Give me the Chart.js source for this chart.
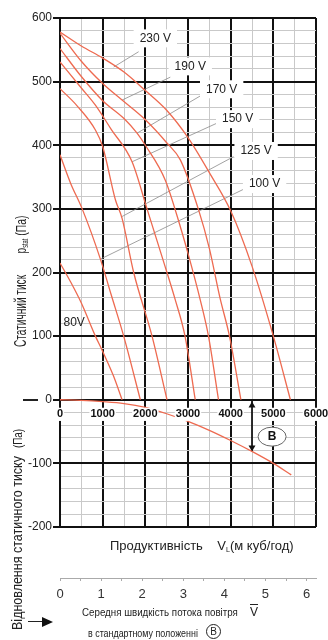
<!DOCTYPE html>
<html>
<head>
<meta charset="utf-8">
<script src="https://cdn.jsdelivr.net/npm/chart.js@4.4.1/dist/chart.umd.min.js"></script>
<style>
  body { margin: 0; background: #fff; font-family: "Liberation Sans", Arial, sans-serif; }
  #wrap { position: relative; width: 328px; height: 640px; overflow: hidden; }
  canvas { position: absolute; left: 0; top: 0; }
  .t { position: absolute; white-space: nowrap; color: #222; line-height: 1; }
  .rot { transform-origin: center; }
  sub { font-size: 55%; vertical-align: -2px; }
</style>
</head>
<body>
<div id="wrap">
  <canvas id="chart" width="328" height="640"></canvas>

  <div class="t rot" id="yTitle1" style="font-size:16px">Статичний тиск</div>
  <div class="t rot" id="yTitle2" style="font-size:15px">p<sub>stat</sub> (Па)</div>
  <div class="t rot" id="yTitle3" style="font-size:14px">Відновлення статичного тиску</div>
  <div class="t rot" id="yTitle4" style="font-size:13px">(Па)</div>

  <div class="t" style="left:110px;top:539px;font-size:13px">Продуктивність&nbsp;&nbsp;&nbsp; V<sub>L</sub>(м куб/год)</div>

  <div class="t" id="speedTitle" style="left:82px;top:607px;font-size:11px;transform-origin:left center">Середня швидкість потока повітря</div>
  <div class="t" style="left:250px;top:606px;font-size:12px;text-decoration:overline">V</div>
  <div class="t" id="posTitle" style="left:88px;top:628px;font-size:11px;transform-origin:left center">в стандартному положенні</div>
  <div class="t" style="left:206px;top:624px;width:13px;height:13px;border:1.5px solid #222;border-radius:50%;font-size:10px;text-align:center;line-height:13px">B</div>

  <div style="position:absolute;left:23px;top:399px;width:15px;height:1.5px;background:#222"></div>
  <div style="position:absolute;left:28px;top:621px;width:14px;height:1.2px;background:#222"></div>
  <div style="position:absolute;left:42px;top:617px;width:0;height:0;border-top:5px solid transparent;border-bottom:5px solid transparent;border-left:11px solid #111"></div>
</div>

<script>
// curves: air flow (m3/h) vs static pressure (Pa) for each voltage
const flow230 = [0, 500, 1000, 1500, 2000, 2500, 3000, 3500, 4000, 4500, 5000, 5400];
const pres230 = [578, 556, 537, 515, 486, 455, 412, 357, 297, 210, 100, 0];

const flow190 = [0, 500, 1000, 1455, 2000, 2500, 2820, 3250, 3500, 3750, 3972, 4240];
const pres190 = [576, 532, 497, 471, 440, 404, 377, 298, 238, 160, 100, 0];

const flow170 = [0, 500, 1000, 1500, 1806, 2000, 2468, 2820, 3000, 3287, 3480, 3715];
const pres170 = [552, 508, 470, 442, 419, 400, 345, 272, 230, 157, 100, 0];

const flow150 = [0, 500, 830, 1200, 1689, 2040, 2400, 2702, 2930, 3170];
const pres150 = [531, 490, 463, 425, 374, 300, 223, 157, 100, 0];

const flow125 = [0, 400, 830, 1000, 1300, 1455, 1727, 2157, 2508];
const pres125 = [489, 462, 424, 398, 314, 285, 200, 100, 0];

const flow100 = [0, 250, 520, 947, 1200, 1493, 1883];
const pres100 = [385, 340, 300, 221, 165, 100, 0];

const flow80 = [0, 250, 500, 830, 1000, 1250, 1455];
const pres80 = [215, 185, 152, 100, 76, 38, 0];

// static pressure recovery
const flowRec = [0, 500, 1000, 1500, 2000, 2500, 3000, 3500, 4000, 4520, 5000, 5420];
const presRec = [0, -1, -3, -6, -12, -22, -34, -48, -64, -82, -100, -118];

// voltage labels and their leader lines (data units)
const voltLabels = ['230 V', '190 V', '170 V', '150 V', '125 V', '100 V'];
const labelFlow = [2234, 3053, 3789, 4164, 4596, 4795];
const labelPres = [568, 524, 488, 441, 391, 339];
const leaderFromFlow = [1843, 2585, 3326, 3754, 4066, 4339];
const leaderFromPres = [547, 507, 479, 437, 382, 332];
const leaderToFlow = [1259, 1455, 1806, 1689, 1455, 947];
const leaderToPres = [523, 471, 419, 374, 288, 221];

// "80V" text, B marker, double arrow
const label80 = { text: '80V', flow: 82, pres: 121 };
const markB = { text: 'B', flow: 4971, pres: -58 };
const arrowFlow = [4500, 4500, 4500, 4500];
const arrowPres = [-2, -9, -75, -81];

// secondary axis: mean air speed
const speedTicks = [0, 1, 2, 3, 4, 5, 6];

const RED = '#ee6a50';

function pts(xs, ys) {
    return xs.map((x, i) => ({ x: x, y: ys[i] }));
}

function curve(xs, ys) {
    return {
        data: pts(xs, ys),
        borderColor: RED,
        borderWidth: 1.3,
        pointRadius: 0,
        cubicInterpolationMode: 'monotone'
    };
}

const datasets = [
    curve(flow230, pres230),
    curve(flow190, pres190),
    curve(flow170, pres170),
    curve(flow150, pres150),
    curve(flow125, pres125),
    curve(flow100, pres100),
    curve(flow80, pres80),
    curve(flowRec, presRec)
];

voltLabels.forEach((_, i) => {
    datasets.push({
        data: pts([leaderFromFlow[i], leaderToFlow[i]], [leaderFromPres[i], leaderToPres[i]]),
        borderColor: '#8a8a8a',
        borderWidth: 0.8,
        pointRadius: 0
    });
});

datasets.push({
    data: pts(arrowFlow, arrowPres),
    borderColor: '#111',
    backgroundColor: '#111',
    borderWidth: 1,
    pointStyle: 'triangle',
    pointRadius: [0, 4, 4, 0],
    pointRotation: [0, 0, 180, 0],
    pointBorderWidth: 0
});

const annotations = {
    id: 'annotations',
    afterDatasetsDraw(chart) {
        const { ctx, scales: { x, y } } = chart;
        ctx.save();
        ctx.font = '12px "Liberation Sans", Arial, sans-serif';
        ctx.textAlign = 'center';
        ctx.textBaseline = 'middle';
        voltLabels.forEach((t, i) => {
            const px = x.getPixelForValue(labelFlow[i]);
            const py = y.getPixelForValue(labelPres[i]);
            const w = ctx.measureText(t).width + 12;
            ctx.fillStyle = '#fff';
            ctx.fillRect(px - w / 2, py - 9, w, 18);
            ctx.fillStyle = '#222';
            ctx.fillText(t, px, py);
        });

        ctx.textAlign = 'left';
        ctx.fillText(label80.text, x.getPixelForValue(label80.flow), y.getPixelForValue(label80.pres));

        const bx = x.getPixelForValue(markB.flow);
        const by = y.getPixelForValue(markB.pres);
        ctx.beginPath();
        ctx.ellipse(bx, by, 14, 9.5, 0, 0, Math.PI * 2);
        ctx.fillStyle = '#fff';
        ctx.fill();
        ctx.strokeStyle = '#666';
        ctx.lineWidth = 1;
        ctx.stroke();
        ctx.fillStyle = '#111';
        ctx.textAlign = 'center';
        ctx.font = 'bold 12px "Liberation Sans", Arial, sans-serif';
        ctx.fillText(markB.text, bx, by + 0.5);
        ctx.restore();
    }
};

const major = (v, step) => Math.abs(v % step) < 1e-6;

Chart.defaults.font.family = '"Liberation Sans", Arial, sans-serif';
Chart.defaults.color = '#222';

new Chart(document.getElementById('chart'), {
    type: 'line',
    data: { datasets: datasets },
    options: {
        responsive: false,
        animation: false,
        layout: { autoPadding: false, padding: { top: 18, right: 12, left: 0, bottom: 0 } },
        plugins: { legend: { display: false }, tooltip: { enabled: false } },
        scales: {
            x: {
                type: 'linear',
                position: { y: 0 },
                min: 0,
                max: 6000,
                // labels sit inside the plot, so they must not push the layout
                afterFit: s => { s.paddingLeft = 0; s.paddingRight = 0; },
                border: { display: false },
                grid: {
                    drawTicks: false,
                    color: c => major(c.tick.value, 1000) ? '#111' : '#c9c9c9',
                    lineWidth: c => major(c.tick.value, 1000) ? 2 : 1
                },
                ticks: {
                    z: 1,
                    stepSize: 500,
                    autoSkip: false,
                    maxRotation: 0,
                    padding: 8,
                    font: { size: 11, weight: 'bold' },
                    color: '#111',
                    showLabelBackdrop: c => major(c.tick.value, 1000),
                    backdropColor: '#fff',
                    backdropPadding: { x: 1, y: 0 },
                    callback: v => major(v, 1000) ? v : ''
                }
            },
            y: {
                type: 'linear',
                position: 'left',
                min: -200,
                max: 600,
                afterFit: s => { s.width = 60; },
                border: { display: true, color: '#111', width: 2 },
                grid: {
                    tickLength: 7,
                    color: c => major(c.tick.value, 100) ? '#111' : '#c9c9c9',
                    lineWidth: c => major(c.tick.value, 100) ? 2 : 1,
                    tickColor: c => major(c.tick.value, 100) ? '#111' : 'rgba(0,0,0,0)'
                },
                ticks: {
                    stepSize: 20,
                    autoSkip: false,
                    padding: 1,
                    font: { size: 12 },
                    color: '#222',
                    callback: v => major(v, 100) ? v : ''
                }
            },
            gap: {
                type: 'linear',
                position: 'bottom',
                weight: 0,
                min: 0,
                max: 1,
                afterFit: s => { s.height = 51; },
                border: { display: false },
                grid: { display: false },
                ticks: { display: false }
            },
            speed: {
                type: 'linear',
                position: 'bottom',
                weight: 1,
                min: 0,
                max: 6.23,
                afterFit: s => { s.height = 62; s.paddingLeft = 0; s.paddingRight = 0; },
                afterBuildTicks: s => {
                    const list = [];
                    speedTicks.forEach((v, i) => {
                        list.push({ value: v });
                        if (i < speedTicks.length - 1) list.push({ value: (v + speedTicks[i + 1]) / 2 });
                    });
                    s.ticks = list;
                },
                border: { display: true, color: '#aaa', width: 1 },
                grid: { drawOnChartArea: false, tickLength: 3, color: '#aaa' },
                ticks: {
                    autoSkip: false,
                    maxRotation: 0,
                    padding: 6,
                    font: { size: 13 },
                    color: '#333',
                    callback: v => Number.isInteger(v) ? v : ''
                }
            }
        }
    },
    plugins: [annotations]
});

// place rotated / condensed titles
function place(id, cx, cy, len, rotate) {
    const el = document.getElementById(id);
    const k = len / el.offsetWidth;
    if (rotate) {
        el.style.left = (cx - el.offsetWidth / 2) + 'px';
        el.style.top = (cy - el.offsetHeight / 2) + 'px';
        el.style.transform = 'rotate(-90deg) scaleX(' + k + ')';
    } else {
        el.style.transform = 'scaleX(' + k + ')';
    }
}
place('yTitle1', 21, 311, 72, true);
place('yTitle2', 21, 234, 38, true);
place('yTitle3', 17, 543, 174, true);
place('yTitle4', 17, 438, 19, true);
place('speedTitle', 0, 0, 156, false);
place('posTitle', 0, 0, 110, false);
</script>
</body>
</html>
